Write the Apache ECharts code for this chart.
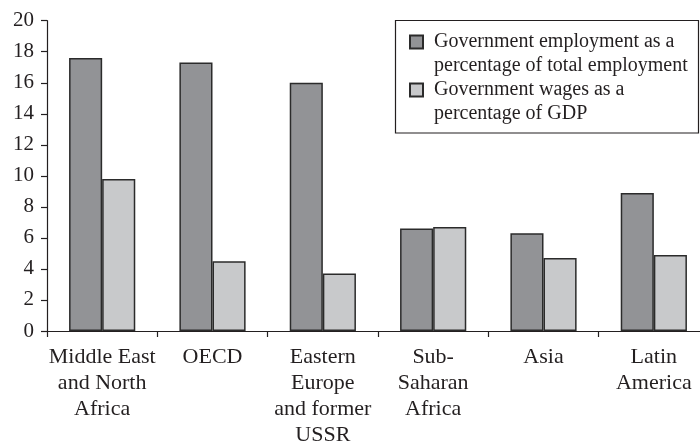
<!DOCTYPE html>
<html>
<head>
<meta charset="utf-8">
<script src="https://cdn.jsdelivr.net/npm/echarts@6/dist/echarts.min.js"></script>
<style>html,body{margin:0;padding:0;background:#fff}#c{width:700px;height:442px}</style>
</head>
<body>
<div id="c"></div>
<script>
var categories = ['Middle East\nand North\nAfrica', 'OECD', 'Eastern\nEurope\nand former\nUSSR', 'Sub-\nSaharan\nAfrica', 'Asia', 'Latin\nAmerica'];
var seriesNames = ['Government employment as a\npercentage of total employment', 'Government wages as a\npercentage of GDP'];
var employment = [17.6, 17.3, 16.0, 6.6, 6.3, 8.9];
var wages = [9.8, 4.5, 3.7, 6.7, 4.7, 4.9];

var FONT = 'Liberation Serif';
var LH = 23.3;
var chart = echarts.init(document.getElementById('c'), null, {renderer: 'canvas'});
chart.setOption({
  animation: false,
  backgroundColor: '#fff',
  textStyle: {fontFamily: FONT, color: '#231f20'},
  grid: {left: 47, right: -9, top: 20.7, bottom: 111, containLabel: false, outerBoundsMode: 'none'},
  legend: {
    orient: 'vertical',
    left: 409,
    top: 42 - 1.5 * LH,
    padding: 0,
    itemWidth: 25,
    itemHeight: 13,
    itemGap: 48 - 3 * LH,
    icon: 'path://M0,0h13v13h-13z',
    symbolKeepAspect: true,
    formatter: function (n) { return '\n' + n; },
    textStyle: {fontFamily: FONT, fontSize: 20, color: '#231f20', lineHeight: LH},
    data: seriesNames
  },
  graphic: [{
    type: 'rect',
    shape: {x: 395.5, y: 20.5, width: 303, height: 112.5},
    style: {fill: 'none', stroke: '#231f20', lineWidth: 1.2},
    z: 100
  }],
  xAxis: {
    type: 'category',
    data: categories,
    axisLine: {lineStyle: {color: '#231f20', width: 1.2}},
    axisTick: {show: true, length: 6, lineStyle: {color: '#231f20', width: 1.2}},
    axisLabel: {fontFamily: FONT, fontSize: 22, color: '#231f20', lineHeight: 26, margin: 13, interval: 0}
  },
  yAxis: {
    type: 'value',
    min: 0, max: 20, interval: 2,
    splitLine: {show: false},
    axisLine: {show: true, lineStyle: {color: '#231f20', width: 1.2}},
    axisTick: {show: true, length: 6, lineStyle: {color: '#231f20', width: 1.2}},
    axisLabel: {fontFamily: FONT, fontSize: 21, color: '#231f20', margin: 13}
  },
  series: [{
    name: seriesNames[0],
    type: 'bar',
    data: employment,
    barWidth: '30%',
    barGap: '0%',
    itemStyle: {color: '#929396', borderColor: '#2b2b2b', borderWidth: 1.5}
  }, {
    name: seriesNames[1],
    type: 'bar',
    data: wages,
    barWidth: '30%',
    barGap: '0%',
    itemStyle: {color: '#c8c9cb', borderColor: '#2b2b2b', borderWidth: 1.5}
  }]
});
</script>
</body>
</html>
